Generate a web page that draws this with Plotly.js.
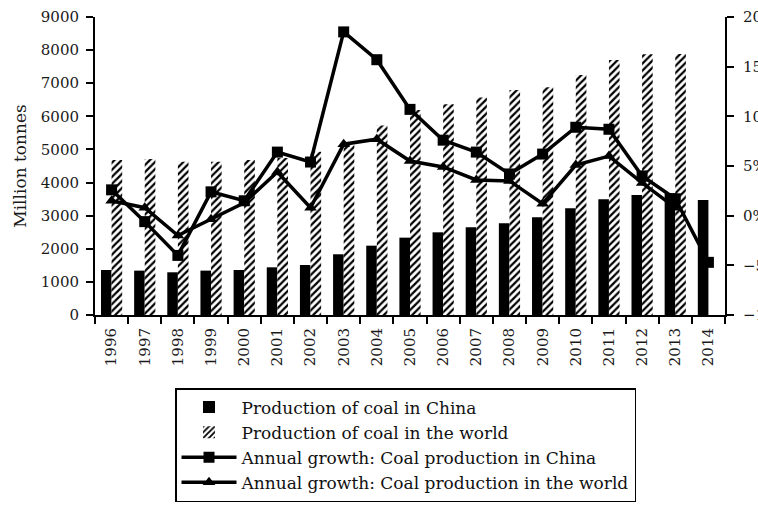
<!DOCTYPE html>
<html>
<head>
<meta charset="utf-8">
<script src="https://cdn.plot.ly/plotly-3.0.1.min.js"></script>
<style>html,body{margin:0;padding:0;background:#fff;}#chart{width:758px;height:506px;}</style>
</head>
<body>
<div id="chart"></div>
<script>
const years = ['1996','1997','1998','1999','2000','2001','2002','2003','2004','2005','2006','2007','2008','2009','2010','2011','2012','2013','2014'];
const chinaProduction = [1360,1340,1290,1340,1360,1440,1510,1834,2094,2336,2497,2649,2769,2951,3222,3494,3625,3675,3474];
const worldProduction = [4683,4713,4632,4632,4683,4740,4934,5220,5720,6190,6365,6566,6798,6879,7251,7704,7876,7885,null];
const chinaGrowth = [2.6,-0.6,-4.0,2.4,1.5,6.4,5.4,18.5,15.7,10.7,7.6,6.4,4.2,6.2,8.9,8.7,4.0,1.7,-4.7];
const worldGrowth = [1.5,0.8,-2.0,-0.35,1.3,4.4,0.8,7.2,7.7,5.5,4.9,3.6,3.5,1.2,5.1,6.0,3.3,0.8,null];

const serif = 'DejaVu Serif, Liberation Serif, serif';
const ink = '#1a1a1a';

const data = [
  {type:'bar', name:'Production of coal in China', x:years, y:chinaProduction, legendgroup:'a',
   marker:{color:'#000', line:{width:0}}},
  {type:'bar', name:'Production of coal in the world', x:years, y:worldProduction, legendgroup:'b',
   marker:{color:'#fff', line:{width:0}, pattern:{shape:'/', fgcolor:'#000', bgcolor:'#fff', size:5, solidity:0.45}}},
  {type:'scatter', mode:'lines+markers', name:'Annual growth: Coal production in China', x:years, y:chinaGrowth, yaxis:'y2', legendgroup:'c',
   line:{color:'#000', width:3.5}, marker:{symbol:'square', size:11, color:'#000'}},
  {type:'scatter', mode:'lines+markers', name:'Annual growth: Coal production in the world', x:years, y:worldGrowth, yaxis:'y2', legendgroup:'d',
   line:{color:'#000', width:3.5}, marker:{symbol:'triangle-up', size:11, color:'#000'}}
];

const layout = {
  width:758, height:506,
  margin:{l:95, r:33, t:17, b:191, autoexpand:false},
  paper_bgcolor:'#fff', plot_bgcolor:'#fff',
  font:{family:serif, color:ink, size:15},
  showlegend:true,
  barmode:'group', bargap:0.36, bargroupgap:0,
  xaxis:{type:'category', range:[-0.5,18.5], showline:true, linecolor:'#000', linewidth:2, ticks:'outside', tickson:'boundaries',
         ticklen:7, tickwidth:2, tickcolor:'#000', tickangle:-90, showgrid:false, zeroline:false,
         ticklabelstandoff:5, tickfont:{family:serif, size:15, color:ink}, automargin:false},
  yaxis:{range:[0,9000], dtick:1000, showline:true, linecolor:'#000', linewidth:2, ticks:'outside', ticklen:7,
         tickwidth:2, tickcolor:'#000', showgrid:false, zeroline:false, automargin:false, ticklabelstandoff:4,
         tickfont:{family:serif, size:15, color:ink},
         title:{text:'Million tonnes', font:{family:serif, size:17, color:ink}, standoff:10}},
  yaxis2:{range:[-10,20], dtick:5, ticksuffix:'%', overlaying:'y', side:'right', anchor:'x', showline:true,
          linecolor:'#000', linewidth:2, ticks:'outside', ticklen:7, tickwidth:2, tickcolor:'#000', ticklabelstandoff:6,
          showgrid:false, zeroline:false, automargin:false, tickfont:{family:serif, size:15, color:ink}},
  legend:{x:0.127, y:-0.245, xanchor:'left', yanchor:'top', orientation:'v', traceorder:'normal',
          bordercolor:'#000', borderwidth:1.5, bgcolor:'#fff', font:{family:serif, size:17, color:'#111'},
          tracegroupgap:2, itemwidth:55}
};

Plotly.newPlot('chart', data, layout, {displayModeBar:false, staticPlot:true});
</script>
</body>
</html>
